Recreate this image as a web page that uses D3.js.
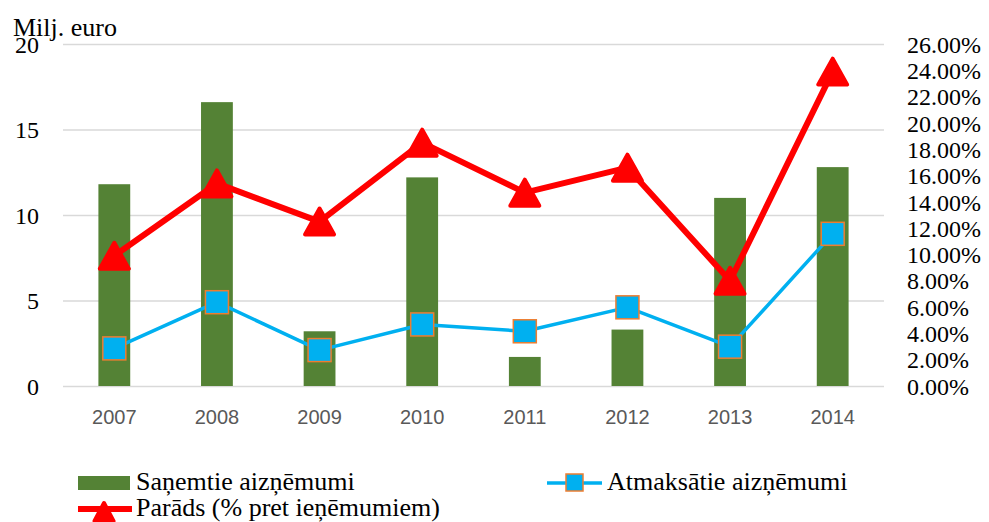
<!DOCTYPE html>
<html>
<head>
<meta charset="utf-8">
<script src="https://cdn.jsdelivr.net/npm/d3@7"></script>
<style>
  body { margin: 0; background: #fff; }
  svg { display: block; }
</style>
</head>
<body>
<svg id="chart"></svg>
<script>
(function() {

  const years = ['2007', '2008', '2009', '2010', '2011', '2012', '2013', '2014']
  const received = [11.8, 16.6, 3.2, 12.2, 1.7, 3.3, 11.0, 12.8]
  const repaid = [2.2, 4.9, 2.1, 3.6, 3.2, 4.6, 2.3, 8.9]
  const debtPct = [9.9, 15.4, 12.5, 18.5, 14.7, 16.6, 8.0, 23.9]
  const leftTicks = [0, 5, 10, 15, 20]
  const rightTicks = [0, 2, 4, 6, 8, 10, 12, 14, 16, 18, 20, 22, 24, 26]
  const legendLabels = ['Saņemtie aizņēmumi', 'Atmaksātie aizņēmumi', 'Parāds (% pret ieņēmumiem)']

  const svgWidth = 989
  const svgHeight = 522
  const plot = {left: 63, right: 884, top: 44, bottom: 386}

  const serif = '"Liberation Serif", "Times New Roman", Times, "DejaVu Serif", serif'
  const green = '#548235'
  const blue = '#00B0F0'
  const orange = '#ED7D31'
  const red = '#FF0000'

  const svg = d3.select('#chart')
    .attr('width', svgWidth)
    .attr('height', svgHeight)

  const x = d3.scaleBand()
    .domain(years)
    .range([plot.left, plot.right])
    .paddingInner(0.69)
    .paddingOuter(0.345)

  const y = d3.scaleLinear()
    .domain([0, 20])
    .range([plot.bottom, plot.top])

  const y2 = d3.scaleLinear()
    .domain([0, 26])
    .range([plot.bottom, plot.top])

  const cx = d => x(d) + x.bandwidth() / 2

  // gridlines + left labels
  const leftAxis = svg.append('g')
    .attr('transform', `translate(${plot.left},0)`)
    .call(d3.axisLeft(y).tickValues(leftTicks).tickSize(-(plot.right - plot.left)).tickPadding(24))
  leftAxis.select('.domain').remove()
  leftAxis.selectAll('line').attr('stroke', '#d9d9d9').attr('stroke-width', 1.5)
  leftAxis.selectAll('text')
    .style('font-family', serif)
    .style('font-size', '24px')
    .attr('fill', '#000')
    .attr('dy', '0.34em')

  const rightAxis = svg.append('g')
    .attr('transform', `translate(${plot.right},0)`)
    .call(d3.axisRight(y2).tickValues(rightTicks).tickSize(0).tickPadding(23)
      .tickFormat(d => d3.format('.2f')(d) + '%'))
  rightAxis.select('.domain').remove()
  rightAxis.selectAll('text')
    .style('font-family', serif)
    .style('font-size', '24px')
    .attr('fill', '#000')
    .attr('dy', '0.34em')

  const xAxis = svg.append('g')
    .attr('transform', `translate(0,${plot.bottom})`)
    .call(d3.axisBottom(x).tickSize(0).tickPadding(24))
  xAxis.select('.domain').remove()
  xAxis.selectAll('text')
    .style('font-family', '"Liberation Sans", Arial, sans-serif')
    .style('font-size', '20px')
    .attr('fill', '#595959')

  // bars
  svg.append('g')
    .selectAll('rect')
    .data(years)
    .enter()
    .append('rect')
    .attr('x', d => x(d))
    .attr('width', x.bandwidth())
    .attr('y', (d, i) => y(received[i]))
    .attr('height', (d, i) => y(0) - y(received[i]))
    .attr('fill', green)

  // repaid line
  const repaidLine = d3.line()
    .x((d, i) => cx(years[i]))
    .y(d => y(d))

  svg.append('path')
    .datum(repaid)
    .attr('d', repaidLine)
    .attr('fill', 'none')
    .attr('stroke', blue)
    .attr('stroke-width', 3.5)
    .attr('stroke-linejoin', 'round')

  svg.append('g')
    .selectAll('rect')
    .data(repaid)
    .enter()
    .append('rect')
    .attr('x', (d, i) => cx(years[i]) - 11.5)
    .attr('y', d => y(d) - 11.5)
    .attr('width', 23)
    .attr('height', 23)
    .attr('fill', blue)
    .attr('stroke', orange)
    .attr('stroke-width', 1.5)

  // debt line
  const debtLine = d3.line()
    .x((d, i) => cx(years[i]))
    .y(d => y2(d))

  svg.append('path')
    .datum(debtPct)
    .attr('d', debtLine)
    .attr('fill', 'none')
    .attr('stroke', red)
    .attr('stroke-width', 6)
    .attr('stroke-linejoin', 'round')

  const triangle = (w, h) => `M0,${-h / 2}L${w / 2},${h / 2}L${-w / 2},${h / 2}Z`

  svg.append('g')
    .selectAll('path')
    .data(debtPct)
    .enter()
    .append('path')
    .attr('transform', (d, i) => `translate(${cx(years[i])},${y2(d)})`)
    .attr('d', triangle(29, 26))
    .attr('fill', red)
    .attr('stroke', red)
    .attr('stroke-width', 4)
    .attr('stroke-linejoin', 'round')

  // axis title
  svg.append('text')
    .attr('x', 13)
    .attr('y', 36)
    .style('font-family', serif)
    .style('font-size', '26px')
    .text('Milj. euro')

  // legend
  const legend = svg.append('g')
    .style('font-family', serif)
    .style('font-size', '26px')

  legend.append('rect')
    .attr('x', 78).attr('y', 476)
    .attr('width', 52).attr('height', 14)
    .attr('fill', green)
  legend.append('text')
    .attr('x', 136).attr('y', 490)
    .text(legendLabels[0])

  legend.append('line')
    .attr('x1', 547).attr('x2', 602)
    .attr('y1', 483).attr('y2', 483)
    .attr('stroke', blue).attr('stroke-width', 3.5)
  legend.append('rect')
    .attr('x', 566).attr('y', 474)
    .attr('width', 17).attr('height', 17)
    .attr('fill', blue).attr('stroke', orange).attr('stroke-width', 1.5)
  legend.append('text')
    .attr('x', 607).attr('y', 490)
    .text(legendLabels[1])

  legend.append('line')
    .attr('x1', 78).attr('x2', 132)
    .attr('y1', 509).attr('y2', 509)
    .attr('stroke', red).attr('stroke-width', 6)
  legend.append('path')
    .attr('transform', 'translate(104,512)')
    .attr('d', triangle(19, 18))
    .attr('fill', red).attr('stroke', red)
    .attr('stroke-width', 4).attr('stroke-linejoin', 'round')
  legend.append('text')
    .attr('x', 136).attr('y', 516)
    .text(legendLabels[2])

})()
</script>
</body>
</html>
